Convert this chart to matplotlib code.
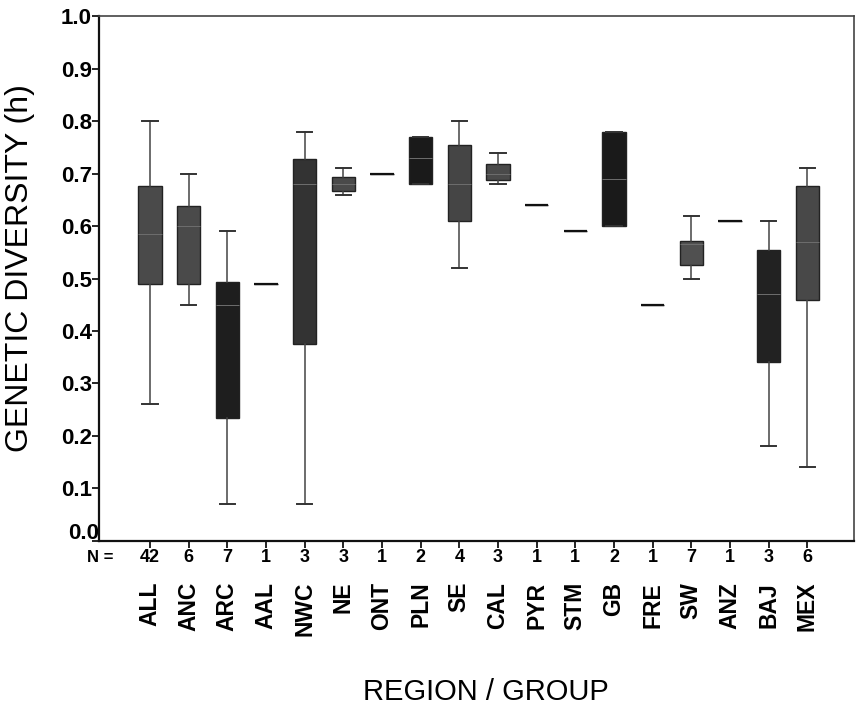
import matplotlib
matplotlib.use("Agg")
import matplotlib.pyplot as plt
from matplotlib.transforms import ScaledTranslation, blended_transform_factory

# ---- data ----
categories = ["ALL", "ANC", "ARC", "AAL", "NWC", "NE", "ONT", "PLN", "SE",
              "CAL", "PYR", "STM", "GB", "FRE", "SW", "ANZ", "BAJ", "MEX"]
n_counts = [42, 6, 7, 1, 3, 3, 1, 2, 4, 3, 1, 1, 2, 1, 7, 1, 3, 6]
whisker_low = [0.26, 0.45, 0.07, 0.49, 0.07, 0.66, 0.70, 0.68, 0.52,
               0.68, 0.64, 0.59, 0.60, 0.45, 0.50, 0.61, 0.18, 0.14]
q1 = [0.49, 0.49, 0.235, 0.49, 0.375, 0.667, 0.70, 0.68, 0.61,
      0.688, 0.64, 0.59, 0.60, 0.45, 0.525, 0.61, 0.34, 0.46]
median = [0.585, 0.60, 0.45, 0.49, 0.68, 0.68, 0.70, 0.73, 0.68,
          0.70, 0.64, 0.59, 0.69, 0.45, 0.565, 0.61, 0.47, 0.57]
q3 = [0.677, 0.638, 0.493, 0.49, 0.728, 0.693, 0.70, 0.77, 0.755,
      0.718, 0.64, 0.59, 0.78, 0.45, 0.572, 0.61, 0.555, 0.677]
whisker_high = [0.80, 0.70, 0.59, 0.49, 0.78, 0.71, 0.70, 0.77, 0.80,
                0.74, 0.64, 0.59, 0.78, 0.45, 0.62, 0.61, 0.61, 0.71]

# ---- styles ----
box_shades = ["#4a4a4a", "#4a4a4a", "#1e1e1e", "#111111", "#333333", "#4a4a4a",
              "#111111", "#1a1a1a", "#454545", "#4a4a4a", "#111111", "#111111",
              "#1a1a1a", "#111111", "#505050", "#111111", "#222222", "#484848"]
FONT = "Liberation Sans"

fig = plt.figure(figsize=(8.61, 7.07), dpi=100)
ax = fig.add_axes([0.115, 0.235, 0.877, 0.742])

stats = []
for i, c in enumerate(categories):
    stats.append(dict(label=c, whislo=whisker_low[i], q1=q1[i], med=median[i],
                      q3=q3[i], whishi=whisker_high[i], fliers=[]))
positions = list(range(1, len(categories) + 1))
bp = ax.bxp(stats, positions=positions, widths=0.6, capwidths=0.4,
            patch_artist=True, showfliers=False,
            boxprops=dict(edgecolor="#222222", linewidth=1.0),
            whiskerprops=dict(color="#444444", linewidth=1.1),
            capprops=dict(color="#333333", linewidth=1.4),
            medianprops=dict(color="#6e6e6e", linewidth=0.7))
for patch, sh in zip(bp["boxes"], box_shades):
    patch.set_facecolor(sh)
for i, med in enumerate(bp["medians"]):
    if q1[i] == q3[i]:
        med.set_color("#111111")
        med.set_linewidth(1.6)

ax.set_xlim(-0.32, 19.21)
ax.set_ylim(0.0, 1.0)
yt = [i / 10 for i in range(11)]
ax.set_yticks(yt)
ax.set_yticklabels([f"{v:.1f}" for v in yt], fontsize=16, fontweight="bold",
                   family=FONT)
ax.tick_params(axis="y", direction="out", length=5, width=1.2, pad=0)
ax.set_xticks(positions)
ax.set_xticklabels([])
ax.tick_params(axis="x", direction="out", length=5, width=1.2)

# the 0.0 label sits a little above its tick in the reference
ax.yaxis.get_major_ticks()[0].label1.set_transform(
    ax.get_yaxis_transform(which="tick1") + ScaledTranslation(0, 10 / 100, fig.dpi_scale_trans))

for s in ["left", "bottom"]:
    ax.spines[s].set_linewidth(1.6)
    ax.spines[s].set_color("#111111")
for s in ["top", "right"]:
    ax.spines[s].set_linewidth(1.2)
    ax.spines[s].set_color("#444444")

trans = blended_transform_factory(ax.transData, ax.transAxes)
ax.text(-0.3, -0.032, "N =", transform=trans, ha="center", va="center",
        fontsize=12, fontweight="bold", family=FONT)
for p, n, c in zip(positions, n_counts, categories):
    ax.text(p, -0.032, str(n), transform=trans, ha="center", va="center",
            fontsize=13, fontweight="bold", family=FONT)
    ax.text(p, -0.078, c, transform=trans, ha="center", va="top", rotation=90,
            fontsize=16.5, fontweight="bold", family=FONT)

fig.text(0.023, 0.621, "GENETIC DIVERSITY (h)", rotation=90, ha="center",
         va="center", fontsize=23, family=FONT)
fig.text(0.564, 0.021, "REGION / GROUP", ha="center", va="center",
         fontsize=21, family=FONT)

fig.savefig("out.png", dpi=100)
